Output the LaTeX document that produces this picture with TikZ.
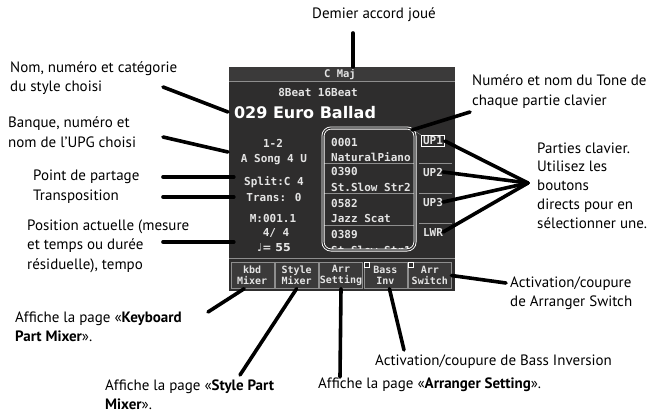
\documentclass[tikz,border=0pt]{standalone}
\usepackage{fontspec}
\setmainfont{PT Sans}
\newfontfamily\lcdmono{DejaVu Sans Mono}
\newfontfamily\lcdsans{DejaVu Sans}
\usetikzlibrary{positioning}

\definecolor{lcdbg}{HTML}{2E2D2D}
\definecolor{lcdtop}{HTML}{3B3A3A}
\definecolor{lcdline}{HTML}{8E8E8E}
\definecolor{lcdtext}{HTML}{E4E4E4}

\tikzset{
  lbl/.style={align=left, anchor=west, inner sep=0pt, font=\fontsize{15}{19.5}\selectfont},
  lcd/.style={text=lcdtext, inner sep=0pt, font=\lcdmono\bfseries\fontsize{11}{12}\selectfont},
  btn/.style={lcd, draw=lcdline, fill=lcdtop, minimum width=43pt, minimum height=26pt,
    align=center, font=\lcdmono\bfseries\fontsize{10}{10.5}\selectfont},
  lead/.style={line width=3.6pt, line cap=round},
}

\begin{document}
\begin{tikzpicture}[x=1pt, y=-1pt]
  \useasboundingbox (0,0) rectangle (657,415);

  % Screen body
  \fill[lcdbg] (229,67) rectangle (455,291);
  \fill[lcdtop] (229,67) rectangle (455,81);
  \draw[lcdline] (229,81) -- (455,81);
  \draw[lcdline] (229,258) -- (455,258);

  % Style header
  \node[lcd, font=\lcdmono\bfseries\fontsize{10.5}{10.5}\selectfont] (chord) at (340,74.5) {C Maj};
  \node[lcd, font=\lcdmono\bfseries\fontsize{11}{11}\selectfont] (beat) at (318,93) {8Beat 16Beat};
  \node[lcd, text=white, font=\lcdsans\bfseries\fontsize{16}{16}\selectfont] (stylename) at (305,113) {029 Euro Ballad};

  % Left panel
  \node[lcd] (upgnum) at (273,143) {1-2};
  \node[lcd] (upgname) at (274,160) {A Song 4 U};
  \node[lcd] (split) at (274,182) {Split:C 4};
  \node[lcd] (trans) at (274,197) {Trans: 0};
  \node[lcd] (meas) at (273,218) {M:001.1};
  \node[lcd] (beats) at (276,233) {4/ 4};
  \node[lcd, font=\lcdsans\bfseries\fontsize{11}{12}\selectfont] (tempo) at (274,248) {♩= 55};

  % Tones of the keyboard parts
  \begin{scope}
    \clip[rounded corners=8pt] (324,129) rectangle (414,249);
    \foreach \num/\tone/\y in {0001/NaturalPiano/142, 0390/St.Slow Str2/172,
                               0582/Jazz Scat/203, 0389/St.Slow Str1/235}{
      \node[lcd, anchor=west] (num\y) at (331,\y) {\num};
      \node[lcd, anchor=west] (tone\y) at (331,\y+15) {\tone};
    }
    \foreach \y in {163,193,225}
      \draw[lcdline] (324,\y) -- (414,\y);
  \end{scope}
  \draw[white, double=lcdbg, double distance=1.2pt, line width=0.9pt, rounded corners=8pt]
    (323,128) rectangle (415,250);
  \draw[lcdline] (413,130) -- (421,135);

  % Keyboard parts
  \node[lcd, draw=white, line width=0.8pt, inner sep=1.5pt] (up1) at (433,141) {UP1};
  \node[lcd] (up2) at (433,172) {UP2};
  \node[lcd] (up3) at (433,202) {UP3};
  \node[lcd] (lwr) at (433,232) {LWR};
  \foreach \y in {163,193,223}
    \draw[lcdline] (419,\y) -- (452,\y);

  % Function buttons
  \foreach \nm/\ta/\tb [count=\i from 0] in {kbd/kbd/Mixer, stl/Style/Mixer, set/Arr/Setting,
                                             bass/Bass/Inv, sw/Arr/Switch}
    \node[btn] (btn-\nm) at ({252.2+44.4*\i},275.5) {\ta\\\tb};
  \draw[white, fill=lcdbg] (364,262) rectangle (369,267);
  \draw[white, fill=lcdbg] (408,262) rectangle (413,267);

  % Labels
  \node[font=\fontsize{15}{19.5}\selectfont] (lblchord) at (374,15) {Demier accord joué};
  \node[lbl] (lblstyle) at (10,78) {Nom, numéro et catégorie\\du style choisi};
  \node[lbl] (lblupg) at (8,132) {Banque, numéro et\\nom de l’UPG choisi};
  \node[lbl] (lblsplit) at (33,177) {Point de partage};
  \node[lbl] (lbltrans) at (33,197) {Transposition};
  \node[lbl] (lblpos) at (27,246) {Position actuelle (mesure\\et temps ou durée\\résiduelle), tempo};
  \node[lbl] (lbltone) at (472,91.5) {Numéro et nom du Tone de\\chaque partie clavier};
  \node[lbl, font=\fontsize{15}{18.8}\selectfont] (lblparts) at (537,185.5)
    {Parties clavier.\\Utilisez les\\boutons\\directs pour en\\sélectionner une.};
  \node[lbl] (lblswitch) at (510,293) {Activation/coupure\\de Arranger Switch};
  \node[lbl] (lblkbd) at (15,327) {Affiche la page «\textbf{Keyboard}\\\textbf{Part Mixer}».};
  \node[lbl] (lblstl) at (105,394.5) {Affiche la page «\textbf{Style Part}\\\textbf{Mixer}».};
  \node[lbl] (lblset) at (318,385) {Affiche la page «\textbf{Arranger Setting}».};
  \node[lbl] (lblbass) at (375,362) {Activation/coupure de Bass Inversion};

  % Leader lines
  \coordinate (chordtip) at (353,33);
  \coordinate (chordend) at (353,67);
  \coordinate (styletip) at (163,87);
  \coordinate (styleend) at (228,112);
  \coordinate (upgtip) at (163,137);
  \coordinate (upgend) at (228,152);
  \coordinate (splittip) at (163,177);
  \coordinate (transtip) at (163,197);
  \coordinate (postip) at (163,242);
  \coordinate (tonetip) at (470,112);
  \coordinate (toneend) at (412,130);
  \coordinate (hub) at (528,183);
  \coordinate (switchtip) at (506,283);
  \coordinate (kbdtip) at (208,312);
  \coordinate (stltip) at (240,375);
  \coordinate (settip) at (340,377);
  \coordinate (basstip) at (404,350);

  \draw[lead] (chordtip) -- (chordend);
  \draw[lead] (styletip) -- (styleend);
  \draw[lead] (upgtip) -- (upgend);
  \draw[lead] (splittip) -- (splittip -| stylename.west);
  \draw[lead] (transtip) -- (transtip -| stylename.west);
  \draw[lead] (postip) -- (postip -| stylename.west);
  \draw[lead] (tonetip) -- (toneend);
  \foreach \part in {up1,up2,up3,lwr}
    \draw[lead] (hub) -- (\part.east);
  \draw[lead] (switchtip) -- (btn-sw.east);
  \draw[lead] (kbdtip) -- ([xshift=-8pt]btn-kbd.south);
  \draw[lead] (stltip) -- (btn-stl.south);
  \draw[lead] (settip) -- (btn-set.south);
  \draw[lead] (basstip) -- ([xshift=4pt]btn-bass.south);
\end{tikzpicture}
\end{document}
